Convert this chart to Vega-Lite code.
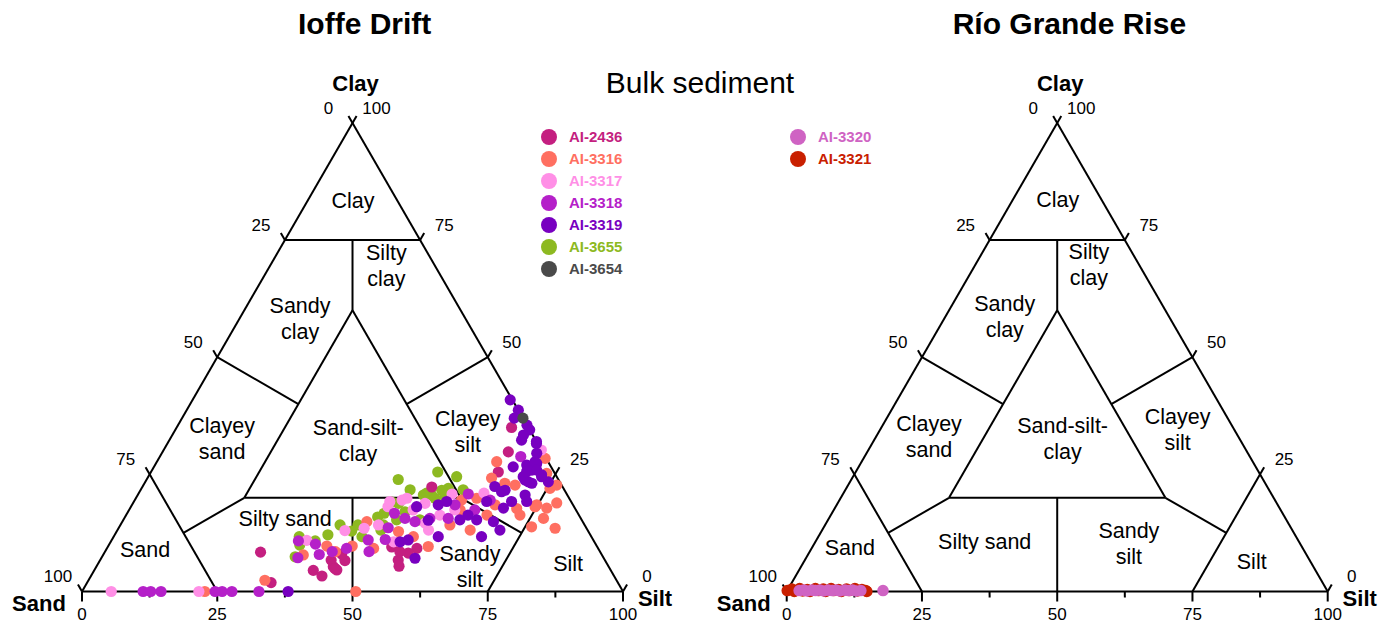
{
  "$schema": "https://vega.github.io/schema/vega-lite/v6.json",
  "width": 1385,
  "height": 628,
  "autosize": {"type": "fit", "contains": "padding"},
  "padding": 0,
  "background": "white",
  "config": {"view": {"stroke": null}, "font": "Liberation Sans"},
  "datasets": {
    "frame": [
      {"sand1": 100, "silt1": 0, "clay1": 0, "sand2": 0, "silt2": 100, "clay2": 0},
      {"sand1": 0, "silt1": 100, "clay1": 0, "sand2": 0, "silt2": 0, "clay2": 100},
      {"sand1": 0, "silt1": 0, "clay1": 100, "sand2": 100, "silt2": 0, "clay2": 0},
      {"sand1": 25, "silt1": 0, "clay1": 75, "sand2": 0, "silt2": 25, "clay2": 75},
      {"sand1": 75, "silt1": 0, "clay1": 25, "sand2": 75, "silt2": 25, "clay2": 0},
      {"sand1": 25, "silt1": 75, "clay1": 0, "sand2": 0, "silt2": 75, "clay2": 25},
      {"sand1": 60, "silt1": 20, "clay1": 20, "sand2": 20, "silt2": 60, "clay2": 20},
      {"sand1": 20, "silt1": 60, "clay1": 20, "sand2": 20, "silt2": 20, "clay2": 60},
      {"sand1": 20, "silt1": 20, "clay1": 60, "sand2": 60, "silt2": 20, "clay2": 20},
      {"sand1": 12.5, "silt1": 12.5, "clay1": 75, "sand2": 20, "silt2": 20, "clay2": 60},
      {"sand1": 75, "silt1": 12.5, "clay1": 12.5, "sand2": 60, "silt2": 20, "clay2": 20},
      {"sand1": 12.5, "silt1": 75, "clay1": 12.5, "sand2": 20, "silt2": 60, "clay2": 20},
      {"sand1": 50, "silt1": 0, "clay1": 50, "sand2": 40, "silt2": 20, "clay2": 40},
      {"sand1": 0, "silt1": 50, "clay1": 50, "sand2": 20, "silt2": 40, "clay2": 40},
      {"sand1": 50, "silt1": 50, "clay1": 0, "sand2": 40, "silt2": 40, "clay2": 20},
      {"sand1": 100, "silt1": 0, "clay1": 0, "sand2": 101.07, "silt2": 1.07, "clay2": -2.14},
      {"sand1": 75, "silt1": 25, "clay1": 0, "sand2": 76.07, "silt2": 26.07, "clay2": -2.14},
      {"sand1": 50, "silt1": 50, "clay1": 0, "sand2": 51.07, "silt2": 51.07, "clay2": -2.14},
      {"sand1": 25, "silt1": 75, "clay1": 0, "sand2": 26.07, "silt2": 76.07, "clay2": -2.14},
      {"sand1": 0, "silt1": 100, "clay1": 0, "sand2": 1.07, "silt2": 101.07, "clay2": -2.14},
      {"sand1": 87.5, "silt1": 12.5, "clay1": 0, "sand2": 88.14, "silt2": 13.14, "clay2": -1.27},
      {"sand1": 62.5, "silt1": 37.5, "clay1": 0, "sand2": 63.14, "silt2": 38.14, "clay2": -1.27},
      {"sand1": 37.5, "silt1": 62.5, "clay1": 0, "sand2": 38.14, "silt2": 63.14, "clay2": -1.27},
      {"sand1": 12.5, "silt1": 87.5, "clay1": 0, "sand2": 13.14, "silt2": 88.14, "clay2": -1.27},
      {"sand1": 0, "silt1": 0, "clay1": 100, "sand2": 0, "silt2": -1.5, "clay2": 101.5},
      {"sand1": 25, "silt1": 0, "clay1": 75, "sand2": 25, "silt2": -1.5, "clay2": 76.5},
      {"sand1": 50, "silt1": 0, "clay1": 50, "sand2": 50, "silt2": -1.5, "clay2": 51.5},
      {"sand1": 75, "silt1": 0, "clay1": 25, "sand2": 75, "silt2": -1.5, "clay2": 26.5},
      {"sand1": 100, "silt1": 0, "clay1": 0, "sand2": 100, "silt2": -1.5, "clay2": 1.5},
      {"sand1": 0, "silt1": 0, "clay1": 100, "sand2": -1.5, "silt2": 0, "clay2": 101.5},
      {"sand1": 0, "silt1": 25, "clay1": 75, "sand2": -1.5, "silt2": 25, "clay2": 76.5},
      {"sand1": 0, "silt1": 50, "clay1": 50, "sand2": -1.5, "silt2": 50, "clay2": 51.5},
      {"sand1": 0, "silt1": 75, "clay1": 25, "sand2": -1.5, "silt2": 75, "clay2": 26.5},
      {"sand1": 0, "silt1": 100, "clay1": 0, "sand2": -1.5, "silt2": 100, "clay2": 1.5}
    ],
    "frameText": [
      {"role": "bottom", "label": "0", "sand": 100, "silt": 0, "clay": 0},
      {"role": "bottom", "label": "25", "sand": 75, "silt": 25, "clay": 0},
      {"role": "bottom", "label": "50", "sand": 50, "silt": 50, "clay": 0},
      {"role": "bottom", "label": "75", "sand": 25, "silt": 75, "clay": 0},
      {"role": "bottom", "label": "100", "sand": 0, "silt": 100, "clay": 0},
      {"role": "left", "label": "0", "sand": 0, "silt": 0, "clay": 100},
      {"role": "left", "label": "25", "sand": 25, "silt": 0, "clay": 75},
      {"role": "left", "label": "50", "sand": 50, "silt": 0, "clay": 50},
      {"role": "left", "label": "75", "sand": 75, "silt": 0, "clay": 25},
      {"role": "left", "label": "100", "sand": 100, "silt": 0, "clay": 0},
      {"role": "right", "label": "100", "sand": 0, "silt": 0, "clay": 100},
      {"role": "right", "label": "75", "sand": 0, "silt": 25, "clay": 75},
      {"role": "right", "label": "50", "sand": 0, "silt": 50, "clay": 50},
      {"role": "right", "label": "25", "sand": 0, "silt": 75, "clay": 25},
      {"role": "right", "label": "0", "sand": 0, "silt": 100, "clay": 0},
      {"role": "cornerClay", "label": "Clay", "sand": 0, "silt": 0, "clay": 100},
      {"role": "cornerSand", "label": "Sand", "sand": 100, "silt": 0, "clay": 0},
      {"role": "cornerSilt", "label": "Silt", "sand": 0, "silt": 100, "clay": 0}
    ],
    "zones": [
      {"site": "Ioffe Drift", "zone": "Clay", "lines": 1, "sand": 8.1, "silt": 8.3, "clay": 83.6},
      {"site": "Ioffe Drift", "zone": "Silty\nclay", "lines": 2, "sand": 9.0, "silt": 21.5, "clay": 69.5},
      {"site": "Ioffe Drift", "zone": "Sandy\nclay", "lines": 2, "sand": 30.6, "silt": 11.2, "clay": 58.2},
      {"site": "Ioffe Drift", "zone": "Sand-silt-\nclay", "lines": 2, "sand": 32.9, "silt": 35.0, "clay": 32.1},
      {"site": "Ioffe Drift", "zone": "Clayey\nsand", "lines": 2, "sand": 57.8, "silt": 9.6, "clay": 32.6},
      {"site": "Ioffe Drift", "zone": "Clayey\nsilt", "lines": 2, "sand": 11.7, "silt": 54.3, "clay": 34.0},
      {"site": "Ioffe Drift", "zone": "Silty sand", "lines": 1, "sand": 54.6, "silt": 29.7, "clay": 15.7},
      {"site": "Ioffe Drift", "zone": "Sandy\nsilt", "lines": 2, "sand": 25.7, "silt": 69.1, "clay": 5.2},
      {"site": "Ioffe Drift", "zone": "Silt", "lines": 1, "sand": 7.1, "silt": 86.8, "clay": 6.1},
      {"site": "Ioffe Drift", "zone": "Sand", "lines": 1, "sand": 83.8, "silt": 7.1, "clay": 9.1},
      {"site": "Río Grande Rise", "zone": "Clay", "lines": 1, "sand": 8.0, "silt": 8.2, "clay": 83.8},
      {"site": "Río Grande Rise", "zone": "Silty\nclay", "lines": 2, "sand": 9.3, "silt": 21.0, "clay": 69.7},
      {"site": "Río Grande Rise", "zone": "Sandy\nclay", "lines": 2, "sand": 30.4, "silt": 11.0, "clay": 58.6},
      {"site": "Río Grande Rise", "zone": "Sand-silt-\nclay", "lines": 2, "sand": 32.7, "silt": 34.7, "clay": 32.6},
      {"site": "Río Grande Rise", "zone": "Clayey\nsand", "lines": 2, "sand": 57.2, "silt": 9.8, "clay": 33.0},
      {"site": "Río Grande Rise", "zone": "Clayey\nsilt", "lines": 2, "sand": 10.5, "silt": 55.0, "clay": 34.5},
      {"site": "Río Grande Rise", "zone": "Silty sand", "lines": 1, "sand": 58.0, "silt": 31.2, "clay": 10.8},
      {"site": "Río Grande Rise", "zone": "Sandy\nsilt", "lines": 2, "sand": 31.7, "silt": 58.2, "clay": 10.1},
      {"site": "Río Grande Rise", "zone": "Silt", "lines": 1, "sand": 10.8, "silt": 82.7, "clay": 6.5},
      {"site": "Río Grande Rise", "zone": "Sand", "lines": 1, "sand": 83.6, "silt": 6.9, "clay": 9.5}
    ],
    "sites": [
      {"site": "Ioffe Drift"},
      {"site": "Río Grande Rise"}
    ],
    "ioffe": [
      {"sample": "AI-3655", "sand": 29.6, "silt": 46.5, "clay": 23.9},
      {"sample": "AI-3655", "sand": 54.0, "silt": 34.3, "clay": 11.7},
      {"sample": "AI-3655", "sand": 56.9, "silt": 35.7, "clay": 7.4},
      {"sample": "AI-3655", "sand": 54.7, "silt": 35.3, "clay": 9.9},
      {"sample": "AI-3655", "sand": 51.5, "silt": 37.7, "clay": 10.8},
      {"sample": "AI-3655", "sand": 48.5, "silt": 39.4, "clay": 12.1},
      {"sample": "AI-3655", "sand": 45.2, "silt": 40.6, "clay": 14.2},
      {"sample": "AI-3655", "sand": 43.7, "silt": 43.4, "clay": 12.9},
      {"sample": "AI-3655", "sand": 41.9, "silt": 43.9, "clay": 14.2},
      {"sample": "AI-3655", "sand": 37.4, "silt": 46.7, "clay": 15.9},
      {"sample": "AI-3655", "sand": 38.2, "silt": 48.7, "clay": 13.1},
      {"sample": "AI-3655", "sand": 35.8, "silt": 47.5, "clay": 16.7},
      {"sample": "AI-3655", "sand": 33.2, "silt": 47.7, "clay": 19.1},
      {"sample": "AI-3655", "sand": 34.2, "silt": 50.5, "clay": 15.3},
      {"sample": "AI-3655", "sand": 21.5, "silt": 53.0, "clay": 25.5},
      {"sample": "AI-3655", "sand": 18.5, "silt": 57.0, "clay": 24.5},
      {"sample": "AI-3655", "sand": 21.3, "silt": 56.7, "clay": 22.0},
      {"sample": "AI-3655", "sand": 22.7, "silt": 55.7, "clay": 21.6},
      {"sample": "AI-3655", "sand": 18.7, "silt": 59.6, "clay": 21.7},
      {"sample": "AI-3655", "sand": 25.1, "silt": 54.3, "clay": 20.6},
      {"sample": "AI-3655", "sand": 25.8, "silt": 53.2, "clay": 21.0},
      {"sample": "AI-3655", "sand": 22.8, "silt": 57.0, "clay": 20.2},
      {"sample": "AI-3655", "sand": 32.1, "silt": 49.1, "clay": 18.8},
      {"sample": "AI-3655", "sand": 31.8, "silt": 51.2, "clay": 17.0},
      {"sample": "AI-3655", "sand": 26.6, "silt": 52.8, "clay": 20.6},
      {"sample": "AI-3655", "sand": 24.8, "silt": 55.3, "clay": 19.9},
      {"sample": "AI-3655", "sand": 29.9, "silt": 54.8, "clay": 15.3},
      {"sample": "AI-3655", "sand": 42.4, "silt": 45.9, "clay": 11.7},
      {"sample": "AI-3655", "sand": 37.2, "silt": 48.6, "clay": 14.2},
      {"sample": "AI-3655", "sand": 28.5, "silt": 49.8, "clay": 21.7},
      {"sample": "AI-2436", "sand": 62.8, "silt": 28.8, "clay": 8.4},
      {"sample": "AI-2436", "sand": 64.1, "silt": 34.0, "clay": 1.9},
      {"sample": "AI-2436", "sand": 55.0, "silt": 40.5, "clay": 4.5},
      {"sample": "AI-2436", "sand": 54.0, "silt": 42.7, "clay": 3.3},
      {"sample": "AI-2436", "sand": 50.6, "silt": 42.7, "clay": 6.7},
      {"sample": "AI-2436", "sand": 50.9, "silt": 43.8, "clay": 5.3},
      {"sample": "AI-2436", "sand": 50.6, "silt": 44.8, "clay": 4.6},
      {"sample": "AI-2436", "sand": 48.1, "silt": 45.3, "clay": 6.6},
      {"sample": "AI-2436", "sand": 48.0, "silt": 44.0, "clay": 8.0},
      {"sample": "AI-2436", "sand": 38.2, "silt": 55.1, "clay": 6.7},
      {"sample": "AI-2436", "sand": 38.7, "silt": 55.9, "clay": 5.4},
      {"sample": "AI-2436", "sand": 38.0, "silt": 52.5, "clay": 9.5},
      {"sample": "AI-2436", "sand": 6.3, "silt": 63.9, "clay": 29.8},
      {"sample": "AI-2436", "sand": 10.3, "silt": 64.2, "clay": 25.5},
      {"sample": "AI-2436", "sand": 24.2, "silt": 53.5, "clay": 22.3},
      {"sample": "AI-2436", "sand": 33.5, "silt": 57.3, "clay": 9.2},
      {"sample": "AI-2436", "sand": 3.1, "silt": 61.9, "clay": 35.0},
      {"sample": "AI-2436", "sand": 35.6, "silt": 56.2, "clay": 8.2},
      {"sample": "AI-2436", "sand": 37.0, "silt": 54.5, "clay": 8.5},
      {"sample": "AI-2436", "sand": 50.8, "silt": 44.3, "clay": 4.9},
      {"sample": "AI-3316", "sand": 77.3, "silt": 22.7, "clay": 0},
      {"sample": "AI-3316", "sand": 49.4, "silt": 50.6, "clay": 0},
      {"sample": "AI-3316", "sand": 65.0, "silt": 32.6, "clay": 2.4},
      {"sample": "AI-3316", "sand": 49.9, "silt": 40.4, "clay": 9.7},
      {"sample": "AI-3316", "sand": 45.2, "silt": 45.1, "clay": 9.7},
      {"sample": "AI-3316", "sand": 39.9, "silt": 45.2, "clay": 14.9},
      {"sample": "AI-3316", "sand": 41.5, "silt": 49.3, "clay": 9.2},
      {"sample": "AI-3316", "sand": 48.9, "silt": 42.6, "clay": 8.5},
      {"sample": "AI-3316", "sand": 55.2, "silt": 37.0, "clay": 7.8},
      {"sample": "AI-3316", "sand": 35.1, "silt": 52.1, "clay": 12.8},
      {"sample": "AI-3316", "sand": 9.5, "silt": 62.8, "clay": 27.7},
      {"sample": "AI-3316", "sand": 0.2, "silt": 71.4, "clay": 28.4},
      {"sample": "AI-3316", "sand": 1.5, "silt": 73.3, "clay": 25.2},
      {"sample": "AI-3316", "sand": 2.5, "silt": 75.5, "clay": 22.0},
      {"sample": "AI-3316", "sand": 12.2, "silt": 63.6, "clay": 24.2},
      {"sample": "AI-3316", "sand": 10.3, "silt": 66.6, "clay": 23.1},
      {"sample": "AI-3316", "sand": 8.6, "silt": 68.7, "clay": 22.7},
      {"sample": "AI-3316", "sand": 10.8, "silt": 71.5, "clay": 17.7},
      {"sample": "AI-3316", "sand": 6.7, "silt": 74.8, "clay": 18.5},
      {"sample": "AI-3316", "sand": 5.2, "silt": 77.0, "clay": 17.8},
      {"sample": "AI-3316", "sand": 2.8, "silt": 78.3, "clay": 18.9},
      {"sample": "AI-3316", "sand": 5.8, "silt": 80.7, "clay": 13.5},
      {"sample": "AI-3316", "sand": 6.9, "silt": 77.5, "clay": 15.6},
      {"sample": "AI-3316", "sand": 10.0, "silt": 76.2, "clay": 13.8},
      {"sample": "AI-3316", "sand": 17.0, "silt": 66.7, "clay": 16.3},
      {"sample": "AI-3316", "sand": 14.4, "silt": 67.1, "clay": 18.5},
      {"sample": "AI-3316", "sand": 17.1, "silt": 63.0, "clay": 19.9},
      {"sample": "AI-3316", "sand": 31.2, "silt": 59.2, "clay": 9.6},
      {"sample": "AI-3316", "sand": 20.1, "silt": 60.4, "clay": 19.5},
      {"sample": "AI-3316", "sand": 21.4, "silt": 61.2, "clay": 17.4},
      {"sample": "AI-3316", "sand": 0.9, "silt": 76.4, "clay": 22.7},
      {"sample": "AI-3316", "sand": 32.9, "silt": 55.4, "clay": 11.7},
      {"sample": "AI-3316", "sand": 7.2, "silt": 74.7, "clay": 18.1},
      {"sample": "AI-3316", "sand": 24.9, "silt": 60.9, "clay": 14.2},
      {"sample": "AI-3316", "sand": 21.7, "silt": 65.2, "clay": 13.1},
      {"sample": "AI-3316", "sand": 10.9, "silt": 72.8, "clay": 16.3},
      {"sample": "AI-3317", "sand": 94.6, "silt": 5.4, "clay": 0},
      {"sample": "AI-3317", "sand": 78.4, "silt": 21.6, "clay": 0},
      {"sample": "AI-3317", "sand": 53.0, "silt": 36.1, "clay": 10.9},
      {"sample": "AI-3317", "sand": 44.9, "silt": 42.1, "clay": 13.0},
      {"sample": "AI-3317", "sand": 41.1, "silt": 45.4, "clay": 13.5},
      {"sample": "AI-3317", "sand": 38.1, "silt": 47.7, "clay": 14.2},
      {"sample": "AI-3317", "sand": 34.4, "silt": 47.5, "clay": 18.1},
      {"sample": "AI-3317", "sand": 37.1, "silt": 52.3, "clay": 10.6},
      {"sample": "AI-3317", "sand": 15.2, "silt": 63.8, "clay": 21.0},
      {"sample": "AI-3317", "sand": 30.0, "silt": 50.1, "clay": 19.9},
      {"sample": "AI-3317", "sand": 27.2, "silt": 54.0, "clay": 18.8},
      {"sample": "AI-3317", "sand": 29.4, "silt": 57.5, "clay": 13.1},
      {"sample": "AI-3317", "sand": 0.0, "silt": 69.8, "clay": 30.2},
      {"sample": "AI-3317", "sand": 31.1, "silt": 49.4, "clay": 19.5},
      {"sample": "AI-3317", "sand": 30.1, "silt": 52.5, "clay": 17.4},
      {"sample": "AI-3317", "sand": 29.3, "silt": 56.1, "clay": 14.6},
      {"sample": "AI-3317", "sand": 33.5, "silt": 47.3, "clay": 19.2},
      {"sample": "AI-3317", "sand": 25.7, "silt": 58.0, "clay": 16.3},
      {"sample": "AI-3317", "sand": 21.2, "silt": 58.0, "clay": 20.8},
      {"sample": "AI-3317", "sand": 22.4, "silt": 60.2, "clay": 17.4},
      {"sample": "AI-3318", "sand": 88.7, "silt": 11.3, "clay": 0},
      {"sample": "AI-3318", "sand": 87.3, "silt": 12.7, "clay": 0},
      {"sample": "AI-3318", "sand": 85.4, "silt": 14.6, "clay": 0},
      {"sample": "AI-3318", "sand": 75.4, "silt": 24.6, "clay": 0},
      {"sample": "AI-3318", "sand": 74.1, "silt": 25.9, "clay": 0},
      {"sample": "AI-3318", "sand": 72.3, "silt": 27.7, "clay": 0},
      {"sample": "AI-3318", "sand": 67.3, "silt": 32.7, "clay": 0},
      {"sample": "AI-3318", "sand": 54.6, "silt": 34.6, "clay": 10.8},
      {"sample": "AI-3318", "sand": 56.5, "silt": 36.3, "clay": 7.2},
      {"sample": "AI-3318", "sand": 51.8, "silt": 38.1, "clay": 10.1},
      {"sample": "AI-3318", "sand": 52.2, "silt": 39.9, "clay": 7.9},
      {"sample": "AI-3318", "sand": 49.5, "silt": 42.0, "clay": 8.5},
      {"sample": "AI-3318", "sand": 46.5, "silt": 44.3, "clay": 9.2},
      {"sample": "AI-3318", "sand": 41.6, "silt": 47.4, "clay": 11.0},
      {"sample": "AI-3318", "sand": 42.7, "silt": 48.8, "clay": 8.5},
      {"sample": "AI-3318", "sand": 38.4, "silt": 50.5, "clay": 11.1},
      {"sample": "AI-3318", "sand": 36.6, "silt": 49.8, "clay": 13.6},
      {"sample": "AI-3318", "sand": 33.9, "silt": 49.4, "clay": 16.7},
      {"sample": "AI-3318", "sand": 4.5, "silt": 66.7, "clay": 28.8},
      {"sample": "AI-3318", "sand": 18.2, "silt": 61.0, "clay": 20.8},
      {"sample": "AI-3318", "sand": 27.9, "silt": 56.5, "clay": 15.6},
      {"sample": "AI-3318", "sand": 24.5, "silt": 59.9, "clay": 15.6},
      {"sample": "AI-3318", "sand": 32.5, "silt": 51.9, "clay": 15.6},
      {"sample": "AI-3318", "sand": 31.0, "silt": 54.1, "clay": 14.9},
      {"sample": "AI-3318", "sand": 21.8, "silt": 59.7, "clay": 18.5},
      {"sample": "AI-3318", "sand": 18.7, "silt": 63.9, "clay": 17.4},
      {"sample": "AI-3318", "sand": 14.8, "silt": 65.7, "clay": 19.5},
      {"sample": "AI-3319", "sand": 61.9, "silt": 38.1, "clay": 0},
      {"sample": "AI-3319", "sand": 35.9, "silt": 53.5, "clay": 10.6},
      {"sample": "AI-3319", "sand": 2.6, "silt": 65.1, "clay": 32.3},
      {"sample": "AI-3319", "sand": 0.2, "silt": 68.2, "clay": 31.6},
      {"sample": "AI-3319", "sand": 1.2, "silt": 69.3, "clay": 29.5},
      {"sample": "AI-3319", "sand": 7.0, "silt": 66.4, "clay": 26.6},
      {"sample": "AI-3319", "sand": 4.3, "silt": 68.7, "clay": 27.0},
      {"sample": "AI-3319", "sand": 3.9, "silt": 70.2, "clay": 25.9},
      {"sample": "AI-3319", "sand": 2.3, "silt": 70.4, "clay": 27.3},
      {"sample": "AI-3319", "sand": 6.2, "silt": 69.3, "clay": 24.5},
      {"sample": "AI-3319", "sand": 5.8, "silt": 70.8, "clay": 23.4},
      {"sample": "AI-3319", "sand": 2.8, "silt": 72.7, "clay": 24.5},
      {"sample": "AI-3319", "sand": 2.1, "silt": 74.5, "clay": 23.4},
      {"sample": "AI-3319", "sand": 15.6, "silt": 65.2, "clay": 19.2},
      {"sample": "AI-3319", "sand": 12.5, "silt": 65.1, "clay": 22.4},
      {"sample": "AI-3319", "sand": 11.8, "silt": 66.9, "clay": 21.3},
      {"sample": "AI-3319", "sand": 11.0, "silt": 67.4, "clay": 21.6},
      {"sample": "AI-3319", "sand": 11.0, "silt": 69.8, "clay": 19.2},
      {"sample": "AI-3319", "sand": 7.8, "silt": 71.6, "clay": 20.6},
      {"sample": "AI-3319", "sand": 8.2, "silt": 72.6, "clay": 19.2},
      {"sample": "AI-3319", "sand": 5.3, "silt": 71.6, "clay": 23.1},
      {"sample": "AI-3319", "sand": 13.2, "silt": 69.0, "clay": 17.8},
      {"sample": "AI-3319", "sand": 16.5, "silt": 68.6, "clay": 14.9},
      {"sample": "AI-3319", "sand": 20.3, "silt": 68.0, "clay": 11.7},
      {"sample": "AI-3319", "sand": 19.4, "silt": 65.3, "clay": 15.3},
      {"sample": "AI-3319", "sand": 29.1, "silt": 52.8, "clay": 18.1},
      {"sample": "AI-3319", "sand": 24.9, "silt": 56.6, "clay": 18.5},
      {"sample": "AI-3319", "sand": 23.0, "silt": 57.8, "clay": 19.2},
      {"sample": "AI-3319", "sand": 28.4, "silt": 56.4, "clay": 15.2},
      {"sample": "AI-3319", "sand": 34.2, "silt": 54.8, "clay": 11.0},
      {"sample": "AI-3319", "sand": 34.9, "silt": 58.0, "clay": 7.1},
      {"sample": "AI-3319", "sand": 28.3, "silt": 60.0, "clay": 11.7},
      {"sample": "AI-3319", "sand": 0.4, "silt": 58.7, "clay": 40.9},
      {"sample": "AI-3319", "sand": 0.0, "silt": 61.3, "clay": 38.7},
      {"sample": "AI-3319", "sand": 0.0, "silt": 64.5, "clay": 35.5},
      {"sample": "AI-3319", "sand": 0.0, "silt": 65.5, "clay": 34.5},
      {"sample": "AI-3319", "sand": 1.7, "silt": 64.9, "clay": 33.4},
      {"sample": "AI-3319", "sand": 0.0, "silt": 68.0, "clay": 32.0},
      {"sample": "AI-3319", "sand": 2.4, "silt": 69.9, "clay": 27.7},
      {"sample": "AI-3319", "sand": 3.0, "silt": 71.1, "clay": 25.9},
      {"sample": "AI-3319", "sand": 2.6, "silt": 72.5, "clay": 24.9},
      {"sample": "AI-3319", "sand": 6.2, "silt": 70.0, "clay": 23.8},
      {"sample": "AI-3319", "sand": 5.0, "silt": 69.4, "clay": 25.6},
      {"sample": "AI-3319", "sand": 20.5, "silt": 63.2, "clay": 16.3},
      {"sample": "AI-3319", "sand": 1.6, "silt": 61.4, "clay": 37.0},
      {"sample": "AI-3319", "sand": 22.5, "silt": 62.2, "clay": 15.3},
      {"sample": "AI-3319", "sand": 16.2, "silt": 70.7, "clay": 13.1},
      {"sample": "AI-3654", "sand": 0.0, "silt": 63.0, "clay": 37.0}
    ],
    "rio": [
      {"sample": "AI-3321", "sand": 99.8, "silt": 0.0, "clay": 0.2},
      {"sample": "AI-3321", "sand": 98.8, "silt": 0.7, "clay": 0.5},
      {"sample": "AI-3321", "sand": 98.6, "silt": 1.4, "clay": 0.0},
      {"sample": "AI-3321", "sand": 97.3, "silt": 2.1, "clay": 0.6},
      {"sample": "AI-3321", "sand": 97.0, "silt": 2.9, "clay": 0.1},
      {"sample": "AI-3321", "sand": 96.0, "silt": 3.6, "clay": 0.4},
      {"sample": "AI-3321", "sand": 95.7, "silt": 4.3, "clay": 0.0},
      {"sample": "AI-3321", "sand": 94.4, "silt": 5.0, "clay": 0.6},
      {"sample": "AI-3321", "sand": 94.0, "silt": 5.8, "clay": 0.2},
      {"sample": "AI-3321", "sand": 93.0, "silt": 6.5, "clay": 0.5},
      {"sample": "AI-3321", "sand": 92.8, "silt": 7.2, "clay": 0.0},
      {"sample": "AI-3321", "sand": 91.5, "silt": 7.9, "clay": 0.6},
      {"sample": "AI-3321", "sand": 91.2, "silt": 8.6, "clay": 0.2},
      {"sample": "AI-3321", "sand": 90.2, "silt": 9.4, "clay": 0.4},
      {"sample": "AI-3321", "sand": 89.9, "silt": 10.1, "clay": 0.0},
      {"sample": "AI-3321", "sand": 88.7, "silt": 10.8, "clay": 0.5},
      {"sample": "AI-3321", "sand": 88.3, "silt": 11.5, "clay": 0.2},
      {"sample": "AI-3321", "sand": 87.1, "silt": 12.3, "clay": 0.6},
      {"sample": "AI-3321", "sand": 86.9, "silt": 13.0, "clay": 0.1},
      {"sample": "AI-3321", "sand": 85.9, "silt": 13.7, "clay": 0.4},
      {"sample": "AI-3321", "sand": 85.3, "silt": 14.5, "clay": 0.2},
      {"sample": "AI-3321", "sand": 85.2, "silt": 14.8, "clay": 0.0},
      {"sample": "AI-3320", "sand": 97.6, "silt": 2.2, "clay": 0.2},
      {"sample": "AI-3320", "sand": 96.7, "silt": 3.0, "clay": 0.3},
      {"sample": "AI-3320", "sand": 96.2, "silt": 3.7, "clay": 0.1},
      {"sample": "AI-3320", "sand": 95.2, "silt": 4.5, "clay": 0.3},
      {"sample": "AI-3320", "sand": 94.6, "silt": 5.2, "clay": 0.2},
      {"sample": "AI-3320", "sand": 93.7, "silt": 6.0, "clay": 0.3},
      {"sample": "AI-3320", "sand": 93.1, "silt": 6.8, "clay": 0.1},
      {"sample": "AI-3320", "sand": 92.2, "silt": 7.5, "clay": 0.3},
      {"sample": "AI-3320", "sand": 91.5, "silt": 8.3, "clay": 0.2},
      {"sample": "AI-3320", "sand": 90.7, "silt": 9.0, "clay": 0.3},
      {"sample": "AI-3320", "sand": 90.1, "silt": 9.8, "clay": 0.1},
      {"sample": "AI-3320", "sand": 89.1, "silt": 10.6, "clay": 0.3},
      {"sample": "AI-3320", "sand": 88.5, "silt": 11.3, "clay": 0.2},
      {"sample": "AI-3320", "sand": 87.7, "silt": 12.0, "clay": 0.3},
      {"sample": "AI-3320", "sand": 87.1, "silt": 12.8, "clay": 0.1},
      {"sample": "AI-3320", "sand": 86.2, "silt": 13.6, "clay": 0.2},
      {"sample": "AI-3320", "sand": 82.1, "silt": 17.7, "clay": 0.2}
    ]
  },
  "encoding": {
    "x": {"field": "x", "type": "quantitative", "scale": {"domain": [-15.16, 240.85], "nice": false, "zero": false}, "axis": null},
    "y": {"field": "y", "type": "quantitative", "scale": {"domain": [-6.75, 109.33], "nice": false, "zero": false}, "axis": null}
  },
  "layer": [
    {
      "data": {"name": "frame"},
      "transform": [
        {"calculate": "['Ioffe Drift', 'Río Grande Rise']", "as": "site"},
        {"flatten": ["site"]},
        {"calculate": "datum.site === 'Río Grande Rise' ? 130.26 : 0", "as": "offset"},
        {"calculate": "datum.silt1 + datum.clay1 / 2 + datum.offset", "as": "x"},
        {"calculate": "datum.clay1 * 0.8660254", "as": "y"},
        {"calculate": "datum.silt2 + datum.clay2 / 2 + datum.offset", "as": "x2"},
        {"calculate": "datum.clay2 * 0.8660254", "as": "y2"}
      ],
      "mark": {"type": "rule", "color": "#000000", "strokeWidth": 2},
      "encoding": {"x2": {"field": "x2"}, "y2": {"field": "y2"}}
    },
    {
      "data": {"name": "frameText"},
      "transform": [
        {"calculate": "['Ioffe Drift', 'Río Grande Rise']", "as": "site"},
        {"flatten": ["site"]},
        {"calculate": "datum.site === 'Río Grande Rise' ? 130.26 : 0", "as": "offset"},
        {"calculate": "datum.silt + datum.clay / 2 + datum.offset", "as": "x"},
        {"calculate": "datum.clay * 0.8660254", "as": "y"}
      ],
      "layer": [
        {
          "transform": [{"filter": "datum.role === 'bottom'"}],
          "mark": {"type": "text", "fontSize": 17, "color": "#000000", "align": "center", "baseline": "middle", "dy": 24},
          "encoding": {"text": {"field": "label"}}
        },
        {
          "transform": [{"filter": "datum.role === 'left'"}],
          "mark": {"type": "text", "fontSize": 17, "color": "#000000", "align": "center", "baseline": "middle", "dx": -24, "dy": -14},
          "encoding": {"text": {"field": "label"}}
        },
        {
          "transform": [{"filter": "datum.role === 'right'"}],
          "mark": {"type": "text", "fontSize": 17, "color": "#000000", "align": "center", "baseline": "middle", "dx": 24, "dy": -14},
          "encoding": {"text": {"field": "label"}}
        },
        {
          "transform": [{"filter": "datum.role === 'cornerClay'"}],
          "mark": {"type": "text", "fontSize": 22, "fontWeight": "bold", "color": "#000000", "align": "center", "baseline": "middle", "dx": 3, "dy": -39},
          "encoding": {"text": {"field": "label"}}
        },
        {
          "transform": [{"filter": "datum.role === 'cornerSand'"}],
          "mark": {"type": "text", "fontSize": 22, "fontWeight": "bold", "color": "#000000", "align": "center", "baseline": "middle", "dx": -43, "dy": 12.5},
          "encoding": {"text": {"field": "label"}}
        },
        {
          "transform": [{"filter": "datum.role === 'cornerSilt'"}],
          "mark": {"type": "text", "fontSize": 22, "fontWeight": "bold", "color": "#000000", "align": "center", "baseline": "middle", "dx": 32, "dy": 7.5},
          "encoding": {"text": {"field": "label"}}
        }
      ]
    },
    {
      "data": {"name": "zones"},
      "transform": [
        {"calculate": "datum.site === 'Río Grande Rise' ? 130.26 : 0", "as": "offset"},
        {"calculate": "datum.silt + datum.clay / 2 + datum.offset", "as": "x"},
        {"calculate": "datum.clay * 0.8660254", "as": "y"}
      ],
      "layer": [
        {
          "transform": [{"filter": "datum.lines === 1"}],
          "mark": {"type": "text", "fontSize": 21.5, "color": "#000000", "align": "center", "baseline": "middle", "dy": 2},
          "encoding": {"text": {"field": "zone"}}
        },
        {
          "transform": [{"filter": "datum.lines === 2"}],
          "mark": {"type": "text", "fontSize": 21.5, "color": "#000000", "align": "center", "baseline": "middle", "lineBreak": "\n", "lineHeight": 26, "dy": -12},
          "encoding": {"text": {"field": "zone"}}
        }
      ]
    },
    {
      "data": {"name": "sites"},
      "transform": [
        {"calculate": "datum.site === 'Río Grande Rise' ? 130.26 : 0", "as": "offset"},
        {"calculate": "52.25 + datum.offset", "as": "x"},
        {"calculate": "104.7", "as": "y"}
      ],
      "mark": {"type": "text", "fontSize": 30, "fontWeight": "bold", "color": "#000000", "align": "center", "baseline": "middle"},
      "encoding": {"text": {"field": "site"}}
    },
    {
      "data": {"values": [{"label": "Bulk sediment"}]},
      "transform": [
        {"calculate": "114.23", "as": "x"},
        {"calculate": "93.8", "as": "y"}
      ],
      "mark": {"type": "text", "fontSize": 30, "color": "#000000", "align": "center", "baseline": "middle"},
      "encoding": {"text": {"field": "label"}}
    },
    {
      "name": "ioffe",
      "data": {"name": "ioffe"},
      "transform": [
        {"calculate": "datum.silt + datum.clay / 2", "as": "x"},
        {"calculate": "datum.clay * 0.8660254", "as": "y"}
      ],
      "mark": {"type": "circle", "size": 125, "opacity": 1},
      "encoding": {
        "color": {
          "field": "sample",
          "type": "nominal",
          "scale": {
            "domain": ["AI-2436", "AI-3316", "AI-3317", "AI-3318", "AI-3319", "AI-3655", "AI-3654"],
            "range": ["#C41F80", "#FF6F61", "#FF8FE6", "#B520C9", "#7800C0", "#8DB921", "#4A4A4A"]
          },
          "legend": {
            "orient": "none", "legendX": 541, "legendY": 129, "title": null,
            "symbolType": "circle", "symbolSize": 256, "symbolStrokeWidth": 0, "symbolOpacity": 1,
            "labelFont": "Liberation Sans", "labelFontSize": 15, "labelFontWeight": "bold",
            "labelOffset": 12, "rowPadding": 6, "padding": 0, "labelLimit": 200,
            "encode": {
              "symbols": {"update": {"size": {"value": 256}}},
              "labels": {"update": {"fill": {"signal": "scale('ioffe_color', datum.value)"}}}
            }
          }
        }
      }
    },
    {
      "name": "rio",
      "data": {"name": "rio"},
      "transform": [
        {"calculate": "datum.silt + datum.clay / 2 + 130.26", "as": "x"},
        {"calculate": "datum.clay * 0.8660254", "as": "y"}
      ],
      "mark": {"type": "circle", "size": 135, "opacity": 1},
      "encoding": {
        "color": {
          "field": "sample",
          "type": "nominal",
          "scale": {"domain": ["AI-3320", "AI-3321"], "range": ["#CF63C3", "#C92000"]},
          "legend": {
            "orient": "none", "legendX": 790, "legendY": 129, "title": null,
            "symbolType": "circle", "symbolSize": 256, "symbolStrokeWidth": 0, "symbolOpacity": 1,
            "labelFont": "Liberation Sans", "labelFontSize": 15, "labelFontWeight": "bold",
            "labelOffset": 12, "rowPadding": 6, "padding": 0, "labelLimit": 200,
            "encode": {
              "symbols": {"update": {"size": {"value": 256}}},
              "labels": {"update": {"fill": {"signal": "scale('rio_color', datum.value)"}}}
            }
          }
        }
      }
    }
  ],
  "resolve": {"scale": {"color": "independent"}}
}
